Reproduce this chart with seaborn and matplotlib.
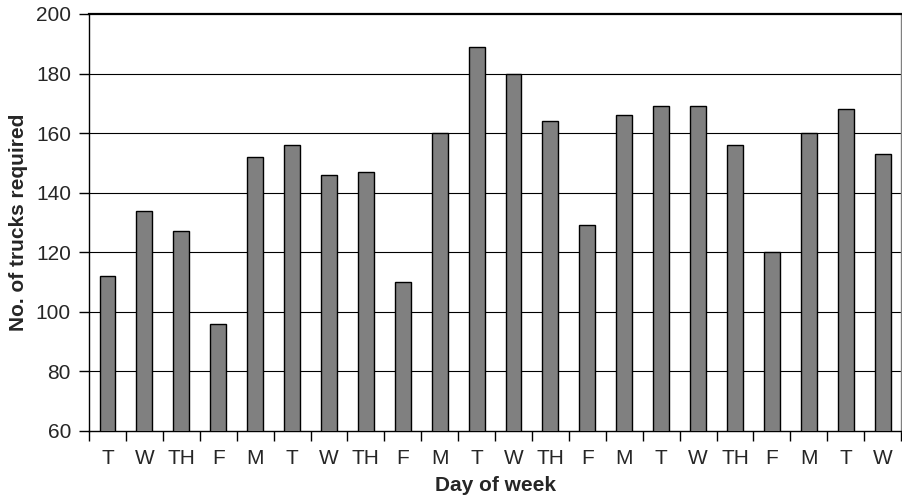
import matplotlib
matplotlib.use("Agg")
import matplotlib.pyplot as plt
import seaborn as sns
import pandas as pd
import numpy as np

days = ["T", "W", "TH", "F", "M", "T", "W", "TH", "F", "M", "T",
        "W", "TH", "F", "M", "T", "W", "TH", "F", "M", "T", "W"]
trucks = [112, 134, 127, 96, 152, 156, 146, 147, 110, 160, 189,
          180, 164, 129, 166, 169, 169, 156, 120, 160, 168, 153]
yticks = [60, 80, 100, 120, 140, 160, 180, 200]

sns.set_style("white")
plt.rcParams["font.family"] = ["Liberation Sans", "DejaVu Sans"]

df = pd.DataFrame({"pos": list(range(len(days))), "trucks": trucks})

fig = plt.figure(figsize=(9.02, 5.0), dpi=100)
ax = fig.add_axes([0.0987, 0.138, 0.9003, 0.834])

sns.barplot(data=df, x="pos", y="trucks", color="#808080", saturation=1,
            edgecolor="black", linewidth=1.0, width=0.43, ax=ax, zorder=3)

ax.set_ylim(60, 200)
ax.set_xlim(-0.5, len(days) - 0.5)
ax.set_yticks(yticks)
ax.set_yticklabels([str(v) for v in yticks], fontsize=15)
for v in yticks[1:-1]:
    ax.axhline(v, color="black", linewidth=0.8, zorder=1)

ax.set_xticks(range(len(days)))
ax.set_xticklabels(days, fontsize=15)
ax.tick_params(axis="x", which="major", length=0, pad=13)
ax.set_xticks(np.arange(-0.5, len(days) + 0.5, 1), minor=True)
ax.tick_params(axis="x", which="minor", length=7, width=1, color="black", direction="out", bottom=True)
ax.tick_params(axis="y", length=7, width=1, color="black", direction="out", left=True, pad=6)

for s in ["left", "bottom"]:
    ax.spines[s].set_color("black")
    ax.spines[s].set_linewidth(1.0)
ax.spines["top"].set_color("black")
ax.spines["top"].set_linewidth(1.6)
ax.spines["right"].set_color("#808080")
ax.spines["right"].set_linewidth(1.0)

ax.set_xlabel("Day of week", fontsize=15, fontweight="bold", labelpad=6)
ax.set_ylabel("No. of trucks required", fontsize=15, fontweight="bold", labelpad=6)

fig.savefig("out.png", dpi=100)
